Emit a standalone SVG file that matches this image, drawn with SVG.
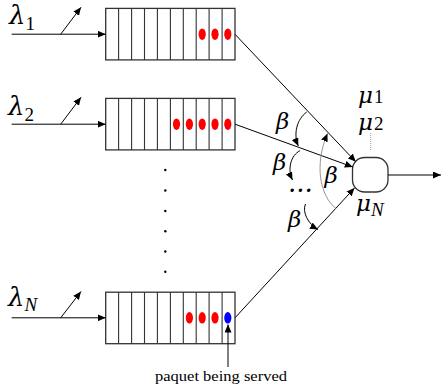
<svg xmlns="http://www.w3.org/2000/svg" width="442" height="389" viewBox="0 0 442 389">
<style>
.box{fill:#fff;stroke:#333;stroke-width:1.3}
.div{stroke:#333;stroke-width:1.1}
.red{fill:#ff0000}
.blue{fill:#0000ff}
.ln{fill:none;stroke:#000;stroke-width:1}
.gr{fill:none;stroke:#8a8a8a;stroke-width:0.9}
.m{font-family:"DejaVu Serif","Liberation Serif",serif;font-style:italic;font-size:26px;fill:#000}
.mu{font-family:"DejaVu Serif","Liberation Serif",serif;font-style:italic;font-size:23px;fill:#000}
.s{font-family:"Liberation Serif",serif;font-style:normal;font-size:19px}
.si{font-family:"Liberation Serif",serif;font-style:italic;font-size:19px}
.b{font-family:"DejaVu Serif","Liberation Serif",serif;font-style:italic;font-size:23px;fill:#000}
.t{font-family:"Liberation Serif",serif;font-size:15px;fill:#000}
.vd{fill:#000}
</style>
<defs>
<marker id="ah" markerUnits="userSpaceOnUse" markerWidth="9" markerHeight="7" refX="8" refY="3.5" orient="auto">
<path d="M0,0 L8,3.5 L0,7 z" fill="#000"/>
</marker>
<marker id="ahg" markerUnits="userSpaceOnUse" markerWidth="9" markerHeight="7" refX="8" refY="3.5" orient="auto">
<path d="M0,0 L8,3.5 L0,7 z" fill="#000"/>
</marker>
<g id="cells">
<rect class="box" x="105.7" y="0" width="129.3" height="51.5"/>
<path class="div" d="M118.6,0V51.5M131.6,0V51.5M144.5,0V51.5M157.4,0V51.5M170.4,0V51.5M183.3,0V51.5M196.2,0V51.5M209.1,0V51.5M222.1,0V51.5"/>
</g>
</defs>

<g id="queue1">
<use href="#cells" y="8.4"/>
<ellipse class="red" cx="202.2" cy="34.2" rx="3.6" ry="5.8"/>
<ellipse class="red" cx="215" cy="34.2" rx="3.6" ry="5.8"/>
<ellipse class="red" cx="227.8" cy="34.2" rx="3.6" ry="5.8"/>
</g>
<g id="queue2">
<use href="#cells" y="98.4"/>
<ellipse class="red" cx="176.5" cy="124.2" rx="3.6" ry="5.8"/>
<ellipse class="red" cx="189.4" cy="124.2" rx="3.6" ry="5.8"/>
<ellipse class="red" cx="202.2" cy="124.2" rx="3.6" ry="5.8"/>
<ellipse class="red" cx="215" cy="124.2" rx="3.6" ry="5.8"/>
<ellipse class="red" cx="227.8" cy="124.2" rx="3.6" ry="5.8"/>
</g>
<g id="queueN">
<use href="#cells" y="292.2"/>
<ellipse class="red" cx="189.4" cy="317.8" rx="3.6" ry="5.8"/>
<ellipse class="red" cx="202.2" cy="317.8" rx="3.6" ry="5.8"/>
<ellipse class="red" cx="215" cy="317.8" rx="3.6" ry="5.8"/>
<ellipse class="blue" cx="227.8" cy="317.8" rx="3.6" ry="5.8"/>
</g>
<g id="vdots">
<circle class="vd" cx="165.3" cy="170" r="1.2"/>
<circle class="vd" cx="165.3" cy="190.5" r="1.2"/>
<circle class="vd" cx="165.3" cy="211" r="1.2"/>
<circle class="vd" cx="165.3" cy="231.3" r="1.2"/>
<circle class="vd" cx="165.3" cy="251.5" r="1.2"/>
<circle class="vd" cx="165.3" cy="271.7" r="1.2"/>
</g>
<g id="server">
<rect class="box" x="352.5" y="157.5" width="35.5" height="34.5" rx="12" ry="12"/>
</g>

<g id="labels">
<text class="m" x="9" y="24">λ<tspan class="s" dy="6">1</tspan></text>
<text class="m" x="8" y="115">λ<tspan class="s" dy="6">2</tspan></text>
<text class="m" x="8" y="306">λ<tspan class="si" dy="5">N</tspan></text>
<text class="mu" x="358" y="103">μ<tspan class="s" dx="1">1</tspan></text>
<text class="mu" x="358" y="130">μ<tspan class="s" dx="1">2</tspan></text>
<text class="mu" x="356" y="211">μ<tspan class="si" dy="5">N</tspan></text>
<text class="b" x="276" y="129">β</text>
<text class="b" x="273" y="170">β</text>
<text class="b" x="288" y="227">β</text>
<text class="b" x="324.5" y="183">β</text>
<text class="m" x="288" y="192" font-style="normal" font-size="26px">...</text>
<text class="t" x="155" y="381" textLength="132" lengthAdjust="spacingAndGlyphs">paquet being served</text>
</g>

<g id="connectors">
<line class="ln" x1="11.7" y1="34.2" x2="105.7" y2="34.2" marker-end="url(#ah)"/>
<line class="ln" x1="60.7" y1="34.2" x2="81" y2="7.3" marker-end="url(#ah)"/>
<line class="ln" x1="11.7" y1="124.2" x2="105.7" y2="124.2" marker-end="url(#ah)"/>
<line class="ln" x1="60.7" y1="124.2" x2="81" y2="97.3" marker-end="url(#ah)"/>
<line class="ln" x1="11.7" y1="317.8" x2="105.7" y2="317.8" marker-end="url(#ah)"/>
<line class="ln" x1="60.7" y1="317.8" x2="81" y2="291.5" marker-end="url(#ah)"/>
<line class="ln" x1="235" y1="34.3" x2="355.8" y2="161.8" marker-end="url(#ah)"/>
<line class="ln" x1="235" y1="124.2" x2="352.8" y2="167" marker-end="url(#ah)"/>
<line class="ln" x1="235" y1="317.8" x2="354.5" y2="188" marker-end="url(#ah)"/>
<line class="ln" x1="388" y1="175" x2="441" y2="175" marker-end="url(#ah)"/>
<line class="ln" x1="228" y1="367" x2="228" y2="324.5" marker-end="url(#ah)"/>
<path class="ln" d="M306.7,112 C297,119 293,134 298.3,146" marker-end="url(#ah)"/>
<path class="ln" d="M300,150.7 C291,155 287,169 292.5,180" marker-end="url(#ah)"/>
<path class="ln" d="M305.5,204 C302,212 308,224 318,229.5" marker-end="url(#ah)"/>
<path class="gr" d="M336,208.5 C320,196 314,165 327.5,133.5" marker-end="url(#ahg)"/>
<line x1="370.7" y1="133" x2="370.7" y2="150" stroke="#999" stroke-width="1" stroke-dasharray="1,1"/>
</g>
</svg>
